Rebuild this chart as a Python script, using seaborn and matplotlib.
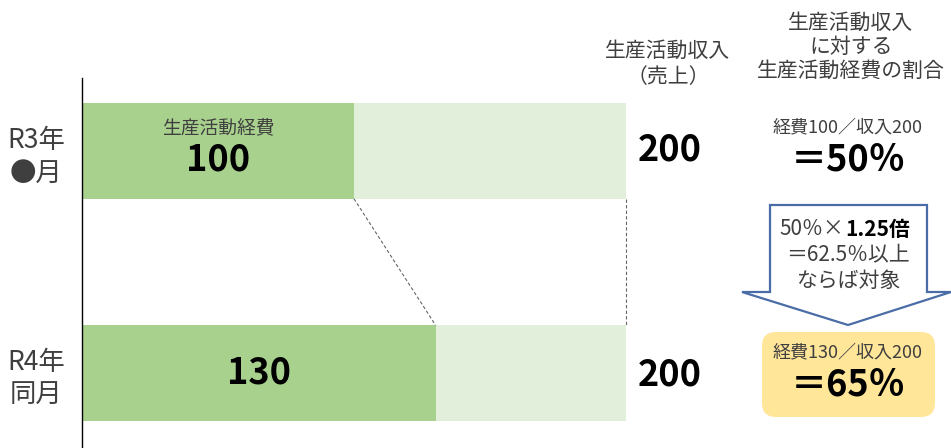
import matplotlib
matplotlib.use('Agg')
import matplotlib.pyplot as plt
import seaborn as sns
import pandas as pd
from matplotlib.patches import Polygon, FancyBboxPatch

# Data
periods = ['R3年\n●月', 'R4年\n同月']
expense = [100, 130]
revenue = [200, 200]
ratio = ['＝50％', '＝65％']
ratio_note = ['経費100／収入200', '経費130／収入200']

sns.set_style('white')
plt.rcParams['font.family'] = ['Noto Sans CJK JP', 'DejaVu Sans']

W, H = 951, 448
fig = plt.figure(figsize=(W / 100, H / 100), dpi=100)

def fx(x):
    return x / W

def fy(y):
    return 1 - y / H

dark = '#A9D18E'
light = '#E2EFDA'
txt = '#3F3F3F'

df = pd.DataFrame({'period': periods, 'expense': expense, 'revenue': revenue})

# bar area: left edge at x=82px, top at y=78px
ax = fig.add_axes([fx(82), 0, 1 - fx(82), fy(78)])
bw = 0.43
sns.barplot(data=df, x='revenue', y='period', orient='h', color=light,
            saturation=1, width=bw, linewidth=0, ax=ax)
sns.barplot(data=df, x='expense', y='period', orient='h', color=dark,
            saturation=1, width=bw, linewidth=0, ax=ax)
ax.set_xlim(0, (W - 82) / 2.72)
ax.set_ylim(1.338, -0.329)
ax.set_xlabel('')
ax.set_ylabel('')
ax.set_xticks([])
for s in ['top', 'right', 'bottom']:
    ax.spines[s].set_visible(False)
ax.spines['left'].set_color('black')
ax.spines['left'].set_linewidth(1)
ax.tick_params(axis='y', length=0, pad=12, labelsize=19, labelcolor=txt)
for lab in ax.get_yticklabels():
    lab.set_multialignment('center')
    lab.set_linespacing(1.3)

# dashed connectors between the bars
ax.plot([expense[0], expense[1]], [bw / 2, 1 - bw / 2], ls=(0, (3, 2)), color='#666666', lw=0.8)
ax.plot([revenue[0], revenue[1]], [bw / 2, 1 - bw / 2], ls=(0, (3, 2)), color='#666666', lw=0.8)

# values in bars
ax.text(expense[0] / 2, -0.1, '生産活動経費', ha='center', va='center', fontsize=13.5, color=txt)
ax.text(expense[0] / 2, 0.04, str(expense[0]), ha='center', va='center',
        fontsize=26, fontweight='bold', color='black')
ax.text(expense[1] / 2, 1, str(expense[1]), ha='center', va='center',
        fontsize=26, fontweight='bold', color='black')

# column headers
fig.text(fx(668), fy(64), '生産活動収入\n（売上）', ha='center', va='center',
         fontsize=15, color=txt, linespacing=1.25)
fig.text(fx(851), fy(47), '生産活動収入\nに対する\n生産活動経費の割合', ha='center', va='center',
         fontsize=15, color=txt, linespacing=1.12)

# revenue values
for i, yy in enumerate([150, 375]):
    fig.text(fx(670), fy(yy), str(revenue[i]), ha='center', va='center',
             fontsize=26, fontweight='bold', color='black')

# overlay for shapes
ov = fig.add_axes([0, 0, 1, 1])
ov.set_xlim(0, W)
ov.set_ylim(H, 0)
ov.axis('off')
ov.patch.set_alpha(0)

arrow = Polygon([(770, 205), (927, 205), (927, 292), (951, 292), (848, 325),
                 (742, 292), (770, 292)], closed=True, facecolor='white',
                edgecolor='#4A6DA8', lw=1.6)
ov.add_patch(arrow)
box = FancyBboxPatch((762, 332), 173, 85, boxstyle='round,pad=0,rounding_size=14',
                     facecolor='#FFE699', edgecolor='none')
ov.add_patch(box)

# ratio texts
fig.text(fx(848), fy(127), ratio_note[0], ha='center', va='center', fontsize=13, color=txt)
fig.text(fx(848), fy(160), ratio[0], ha='center', va='center', fontsize=26,
         fontweight='bold', color='black')
fig.text(fx(848), fy(352), ratio_note[1], ha='center', va='center', fontsize=13, color=txt)
fig.text(fx(848), fy(385), ratio[1], ha='center', va='center', fontsize=26,
         fontweight='bold', color='black')

# arrow text
fig.text(fx(844), fy(229), '50％×', ha='right', va='center', fontsize=15, color=txt)
fig.text(fx(845), fy(229), '1.25倍', ha='left', va='center', fontsize=15,
         fontweight='bold', color='black')
fig.text(fx(848), fy(255), '＝62.5％以上', ha='center', va='center', fontsize=15, color=txt)
fig.text(fx(848), fy(281), 'ならば対象', ha='center', va='center', fontsize=15, color=txt)

fig.savefig('out.png', dpi=100)
